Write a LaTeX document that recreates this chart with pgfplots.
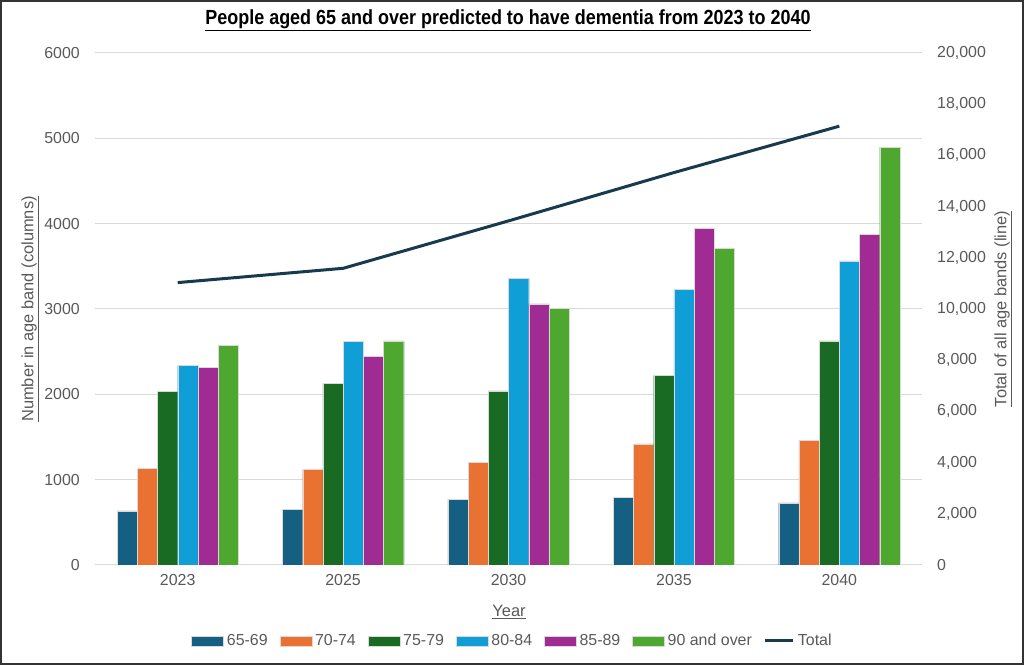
\documentclass[border=0pt]{standalone}
\usepackage{fontspec}
\setmainfont{Liberation Sans}
\newfontfamily\titlefont[FakeStretch=0.88]{Liberation Sans}
\usepackage{pgfplots}
\pgfplotsset{compat=1.18}

\definecolor{c6569}{HTML}{156082}
\definecolor{c7074}{HTML}{E97132}
\definecolor{c7579}{HTML}{196B24}
\definecolor{c8084}{HTML}{0F9ED5}
\definecolor{c8589}{HTML}{A02B93}
\definecolor{c90}{HTML}{4EA72E}
\definecolor{ctotal}{HTML}{173A4D}
\definecolor{tickgray}{HTML}{595959}
\definecolor{gridgray}{HTML}{D9D9D9}

\pgfplotsset{
  barleg/.style={legend image code/.code={\fill[##1] (0bp,-5bp) rectangle (32bp,5bp);}},
  lineleg/.style={legend image code/.code={\draw[##1] (0bp,0bp) -- (28bp,0bp);}},
  band/.style={fill=#1, draw=white!85!black, line width=0.4bp, barleg},
  common/.style={
    at={(95bp,100bp)}, anchor=south west,
    scale only axis, width=827bp, height=512bp,
    xmin=-0.5, xmax=4.5,
    axis line style={draw=none},
    major tick length=0pt,
    ticklabel style={font=\fontsize{16}{16}\selectfont, text=tickgray, inner sep=0pt},
    label style={font=\fontsize{16.5}{16.5}\selectfont, text=tickgray},
    /pgf/number format/assume math mode=true,
  },
}

\begin{document}
\begin{tikzpicture}[x=1bp,y=1bp]
\useasboundingbox (0,0) rectangle (1024,665);
\draw[line width=2bp, color=black!80] (1,1) rectangle (1023,664);

% age bands as grouped columns, left axis
\begin{axis}[common,
  ymin=0, ymax=6000,
  ybar=0pt, bar width=20.2bp,
  xtick={0,1,2,3,4}, xticklabels={2023,2025,2030,2035,2040},
  xticklabel style={anchor=north, yshift=-9bp},
  ytick={0,1000,...,6000},
  yticklabel style={anchor=east, xshift=-15bp},
  /pgf/number format/1000 sep={},
  ymajorgrids, grid style={draw=gridgray, line width=1bp},
  ylabel={\underline{Number in age band (columns)}},
  ylabel style={at={(axis description cs:-0.0786,0.5)}, anchor=center},
  legend columns=-1,
  legend style={draw=none, fill=none,
    at={(axis description cs:0.5055,-0.148)}, anchor=center,
    font=\fontsize{16}{16}\selectfont, text=tickgray,
    nodes={inner xsep=3bp},
    /tikz/every even column/.append style={column sep=9bp}},
]
\addplot[band=c6569] coordinates {(0,633) (1,656) (2,773) (3,793) (4,727)};
\addlegendentry{65-69}
\addplot[band=c7074] coordinates {(0,1129) (1,1117) (2,1203) (3,1418) (4,1457)};
\addlegendentry{70-74}
\addplot[band=c7579] coordinates {(0,2031) (1,2129) (2,2039) (3,2223) (4,2625)};
\addlegendentry{75-79}
\addplot[band=c8084] coordinates {(0,2340) (1,2617) (2,3359) (3,3234) (4,3563)};
\addlegendentry{80-84}
\addplot[band=c8589] coordinates {(0,2320) (1,2445) (2,3059) (3,3949) (4,3871)};
\addlegendentry{85-89}
\addplot[band=c90] coordinates {(0,2578) (1,2625) (2,3008) (3,3711) (4,4898)};
\addlegendentry{90 and over}
\addlegendimage{lineleg, ctotal, line width=3bp}
\addlegendentry{Total}
\end{axis}

% total of all bands, right axis
\begin{axis}[common,
  ymin=0, ymax=20000,
  axis x line=none,
  axis y line*=right,
  ytick={0,2000,...,20000},
  scaled y ticks=false,
  yticklabel style={anchor=west, xshift=15bp},
  /pgf/number format/1000 sep={,},
  ylabel={\underline{Total of all age bands (line)}},
  ylabel style={at={(axis description cs:1.098,0.5)}, anchor=center},
]
\addplot[ctotal, line width=3bp, mark=none] coordinates {(0,11031) (1,11589) (2,13441) (3,15328) (4,17141)};
\end{axis}

\node[font=\titlefont\bfseries\fontsize{20.5}{20.5}\selectfont, text=black] at (508,645)
  {\underline{People aged 65 and over predicted to have dementia from 2023 to 2040}};
\node[font=\fontsize{16.5}{16.5}\selectfont, text=tickgray] at (509,53) {\underline{Year}};
\end{tikzpicture}
\end{document}
